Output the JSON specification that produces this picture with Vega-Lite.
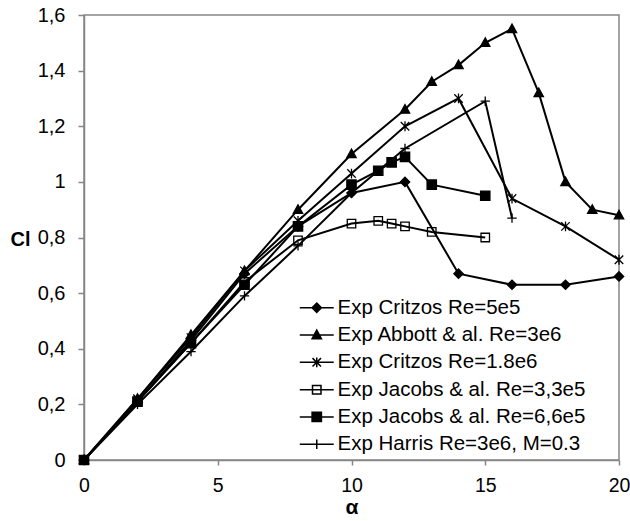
{
  "$schema": "https://vega.github.io/schema/vega-lite/v6.json",
  "width": 535,
  "height": 445,
  "autosize": {"type": "none"},
  "padding": {"left": 84, "top": 15, "right": 11, "bottom": 61},
  "background": "white",
  "config": {
    "view": {"stroke": "#868686", "strokeWidth": 1.5},
    "font": "Liberation Sans",
    "axis": {"labelFont": "Liberation Sans", "titleFont": "Liberation Sans"}
  },
  "data": {
    "values": [
      {"s": "Exp Critzos Re=5e5", "a": 0, "cl": 0},
      {"s": "Exp Critzos Re=5e5", "a": 2, "cl": 0.21},
      {"s": "Exp Critzos Re=5e5", "a": 4, "cl": 0.43},
      {"s": "Exp Critzos Re=5e5", "a": 6, "cl": 0.67},
      {"s": "Exp Critzos Re=5e5", "a": 8, "cl": 0.84},
      {"s": "Exp Critzos Re=5e5", "a": 10, "cl": 0.96},
      {"s": "Exp Critzos Re=5e5", "a": 12, "cl": 1.0},
      {"s": "Exp Critzos Re=5e5", "a": 14, "cl": 0.67},
      {"s": "Exp Critzos Re=5e5", "a": 16, "cl": 0.63},
      {"s": "Exp Critzos Re=5e5", "a": 18, "cl": 0.63},
      {"s": "Exp Critzos Re=5e5", "a": 20, "cl": 0.66},
      {"s": "Exp Abbott & al. Re=3e6", "a": 0, "cl": 0},
      {"s": "Exp Abbott & al. Re=3e6", "a": 2, "cl": 0.22},
      {"s": "Exp Abbott & al. Re=3e6", "a": 4, "cl": 0.45},
      {"s": "Exp Abbott & al. Re=3e6", "a": 6, "cl": 0.68},
      {"s": "Exp Abbott & al. Re=3e6", "a": 8, "cl": 0.9},
      {"s": "Exp Abbott & al. Re=3e6", "a": 10, "cl": 1.1},
      {"s": "Exp Abbott & al. Re=3e6", "a": 12, "cl": 1.26},
      {"s": "Exp Abbott & al. Re=3e6", "a": 13, "cl": 1.36},
      {"s": "Exp Abbott & al. Re=3e6", "a": 14, "cl": 1.42},
      {"s": "Exp Abbott & al. Re=3e6", "a": 15, "cl": 1.5},
      {"s": "Exp Abbott & al. Re=3e6", "a": 16, "cl": 1.55},
      {"s": "Exp Abbott & al. Re=3e6", "a": 17, "cl": 1.32},
      {"s": "Exp Abbott & al. Re=3e6", "a": 18, "cl": 1.0},
      {"s": "Exp Abbott & al. Re=3e6", "a": 19, "cl": 0.9},
      {"s": "Exp Abbott & al. Re=3e6", "a": 20, "cl": 0.88},
      {"s": "Exp Critzos Re=1.8e6", "a": 0, "cl": 0},
      {"s": "Exp Critzos Re=1.8e6", "a": 2, "cl": 0.22},
      {"s": "Exp Critzos Re=1.8e6", "a": 4, "cl": 0.44},
      {"s": "Exp Critzos Re=1.8e6", "a": 6, "cl": 0.68},
      {"s": "Exp Critzos Re=1.8e6", "a": 8, "cl": 0.86},
      {"s": "Exp Critzos Re=1.8e6", "a": 10, "cl": 1.03},
      {"s": "Exp Critzos Re=1.8e6", "a": 12, "cl": 1.2},
      {"s": "Exp Critzos Re=1.8e6", "a": 14, "cl": 1.3},
      {"s": "Exp Critzos Re=1.8e6", "a": 16, "cl": 0.94},
      {"s": "Exp Critzos Re=1.8e6", "a": 18, "cl": 0.84},
      {"s": "Exp Critzos Re=1.8e6", "a": 20, "cl": 0.72},
      {"s": "Exp Jacobs & al. Re=3,3e5", "a": 0, "cl": 0},
      {"s": "Exp Jacobs & al. Re=3,3e5", "a": 2, "cl": 0.21},
      {"s": "Exp Jacobs & al. Re=3,3e5", "a": 4, "cl": 0.42},
      {"s": "Exp Jacobs & al. Re=3,3e5", "a": 6, "cl": 0.64},
      {"s": "Exp Jacobs & al. Re=3,3e5", "a": 8, "cl": 0.79},
      {"s": "Exp Jacobs & al. Re=3,3e5", "a": 10, "cl": 0.85},
      {"s": "Exp Jacobs & al. Re=3,3e5", "a": 11, "cl": 0.86},
      {"s": "Exp Jacobs & al. Re=3,3e5", "a": 11.5, "cl": 0.85},
      {"s": "Exp Jacobs & al. Re=3,3e5", "a": 12, "cl": 0.84},
      {"s": "Exp Jacobs & al. Re=3,3e5", "a": 13, "cl": 0.82},
      {"s": "Exp Jacobs & al. Re=3,3e5", "a": 15, "cl": 0.8},
      {"s": "Exp Jacobs & al. Re=6,6e5", "a": 0, "cl": 0},
      {"s": "Exp Jacobs & al. Re=6,6e5", "a": 2, "cl": 0.21},
      {"s": "Exp Jacobs & al. Re=6,6e5", "a": 4, "cl": 0.42},
      {"s": "Exp Jacobs & al. Re=6,6e5", "a": 6, "cl": 0.63},
      {"s": "Exp Jacobs & al. Re=6,6e5", "a": 8, "cl": 0.84},
      {"s": "Exp Jacobs & al. Re=6,6e5", "a": 10, "cl": 0.99},
      {"s": "Exp Jacobs & al. Re=6,6e5", "a": 11, "cl": 1.04},
      {"s": "Exp Jacobs & al. Re=6,6e5", "a": 11.5, "cl": 1.07},
      {"s": "Exp Jacobs & al. Re=6,6e5", "a": 12, "cl": 1.09},
      {"s": "Exp Jacobs & al. Re=6,6e5", "a": 13, "cl": 0.99},
      {"s": "Exp Jacobs & al. Re=6,6e5", "a": 15, "cl": 0.95},
      {"s": "Exp Harris Re=3e6, M=0.3", "a": 0, "cl": 0},
      {"s": "Exp Harris Re=3e6, M=0.3", "a": 2, "cl": 0.2},
      {"s": "Exp Harris Re=3e6, M=0.3", "a": 4, "cl": 0.39},
      {"s": "Exp Harris Re=3e6, M=0.3", "a": 6, "cl": 0.59},
      {"s": "Exp Harris Re=3e6, M=0.3", "a": 8, "cl": 0.77},
      {"s": "Exp Harris Re=3e6, M=0.3", "a": 10, "cl": 0.96},
      {"s": "Exp Harris Re=3e6, M=0.3", "a": 12, "cl": 1.12},
      {"s": "Exp Harris Re=3e6, M=0.3", "a": 15, "cl": 1.29},
      {"s": "Exp Harris Re=3e6, M=0.3", "a": 16, "cl": 0.87}
    ]
  },
  "encoding": {
    "x": {
      "field": "a", "type": "quantitative",
      "scale": {"domain": [0, 20], "nice": false, "zero": false},
      "axis": {
        "values": [0, 5, 10, 15, 20], "title": "α", "grid": false,
        "titleFontSize": 21, "titleFontWeight": "bold", "titleColor": "black", "titlePadding": 2,
        "labelFontSize": 19.5, "labelColor": "black", "labelPadding": 11, "labelFlush": false,
        "tickSize": 5, "tickColor": "#868686", "domainColor": "#868686", "domainWidth": 1.5, "tickWidth": 1.5
      }
    },
    "y": {
      "field": "cl", "type": "quantitative",
      "scale": {"domain": [0, 1.6], "nice": false},
      "axis": {
        "values": [0, 0.2, 0.4, 0.6, 0.8, 1, 1.2, 1.4, 1.6],
        "labelExpr": "replace(format(datum.value, '.1~f'), '.', ',')",
        "title": "Cl", "grid": false, "titleAngle": 0, "titleX": -64, "titleY": 224,
        "titleAlign": "center", "titleBaseline": "middle",
        "titleFontSize": 20, "titleFontWeight": "bold", "titleColor": "black",
        "labelFontSize": 20, "labelColor": "black", "labelPadding": 13, "labelFlush": false,
        "tickSize": 6, "tickColor": "#868686", "domainColor": "#868686", "domainWidth": 1.5, "tickWidth": 1.5
      }
    }
  },
  "layer": [
    {
      "mark": {"type": "line", "color": "black", "strokeWidth": 2},
      "encoding": {"detail": {"field": "s"}}
    },
    {
      "mark": {"type": "point", "filled": true, "opacity": 1, "stroke": "black", "strokeWidth": 1.3, "size": 72},
      "encoding": {
        "shape": {
          "field": "s",
          "scale": {
            "domain": ["Exp Critzos Re=5e5", "Exp Abbott & al. Re=3e6", "Exp Critzos Re=1.8e6", "Exp Jacobs & al. Re=3,3e5", "Exp Jacobs & al. Re=6,6e5", "Exp Harris Re=3e6, M=0.3"],
            "range": [
              "M0,-1.1L1.1,0L0,1.1L-1.1,0Z",
              "M0,-1.15L1.1,0.85L-1.1,0.85Z",
              "M-1,-1L1,1M-1,1L1,-1M0,-1.15V1.15",
              "M-1,-1H1V1H-1Z",
              "M-1.1,-1.1H1.1V1.1H-1.1Z",
              "M-1.1,0H1.1M0,-1.1V1.1"
            ]
          },
          "legend": null
        },
        "fill": {
          "field": "s",
          "scale": {
            "domain": ["Exp Critzos Re=5e5", "Exp Abbott & al. Re=3e6", "Exp Critzos Re=1.8e6", "Exp Jacobs & al. Re=3,3e5", "Exp Jacobs & al. Re=6,6e5", "Exp Harris Re=3e6, M=0.3"],
            "range": ["black", "black", "transparent", "transparent", "black", "transparent"]
          },
          "legend": null
        }
      }
    },
    {
      "transform": [{"filter": "datum.a > 100"}],
      "mark": {"type": "point", "filled": true, "opacity": 1, "stroke": "black", "strokeWidth": 1.5, "size": 72},
      "encoding": {
        "shape": {
          "field": "s",
          "scale": {
            "domain": ["Exp Critzos Re=5e5", "Exp Abbott & al. Re=3e6", "Exp Critzos Re=1.8e6", "Exp Jacobs & al. Re=3,3e5", "Exp Jacobs & al. Re=6,6e5", "Exp Harris Re=3e6, M=0.3"],
            "range": [
              "M0,-1.1L1.1,0L0,1.1L-1.1,0ZM-4,0H4",
              "M0,-1.15L1.1,0.85L-1.1,0.85ZM-4,0H4",
              "M-1,-1L1,1M-1,1L1,-1M0,-1.15V1.15M-4,0H4",
              "M-1,-1H1V1H-1ZM-4,0H4",
              "M-1.1,-1.1H1.1V1.1H-1.1ZM-4,0H4",
              "M-4,0H4M0,-1.1V1.1"
            ]
          },
          "legend": {
            "title": null, "orient": "none", "legendX": 222.5, "legendY": 282.5,
            "padding": 0, "symbolSize": 72, "symbolOffset": 0, "labelOffset": 10.5,
            "labelFontSize": 20.5, "labelColor": "black", "labelFont": "Liberation Sans",
            "labelLimit": 0, "rowPadding": 6.3,
            "encode": {"symbols": {"update": {"stroke": {"value": "black"}, "strokeWidth": {"value": 1.5}, "opacity": {"value": 1}}}}
          }
        },
        "fill": {
          "field": "s",
          "scale": {
            "domain": ["Exp Critzos Re=5e5", "Exp Abbott & al. Re=3e6", "Exp Critzos Re=1.8e6", "Exp Jacobs & al. Re=3,3e5", "Exp Jacobs & al. Re=6,6e5", "Exp Harris Re=3e6, M=0.3"],
            "range": ["black", "black", "transparent", "transparent", "black", "transparent"]
          }
        }
      }
    }
  ],
  "resolve": {"scale": {"shape": "independent", "fill": "independent"}}
}
